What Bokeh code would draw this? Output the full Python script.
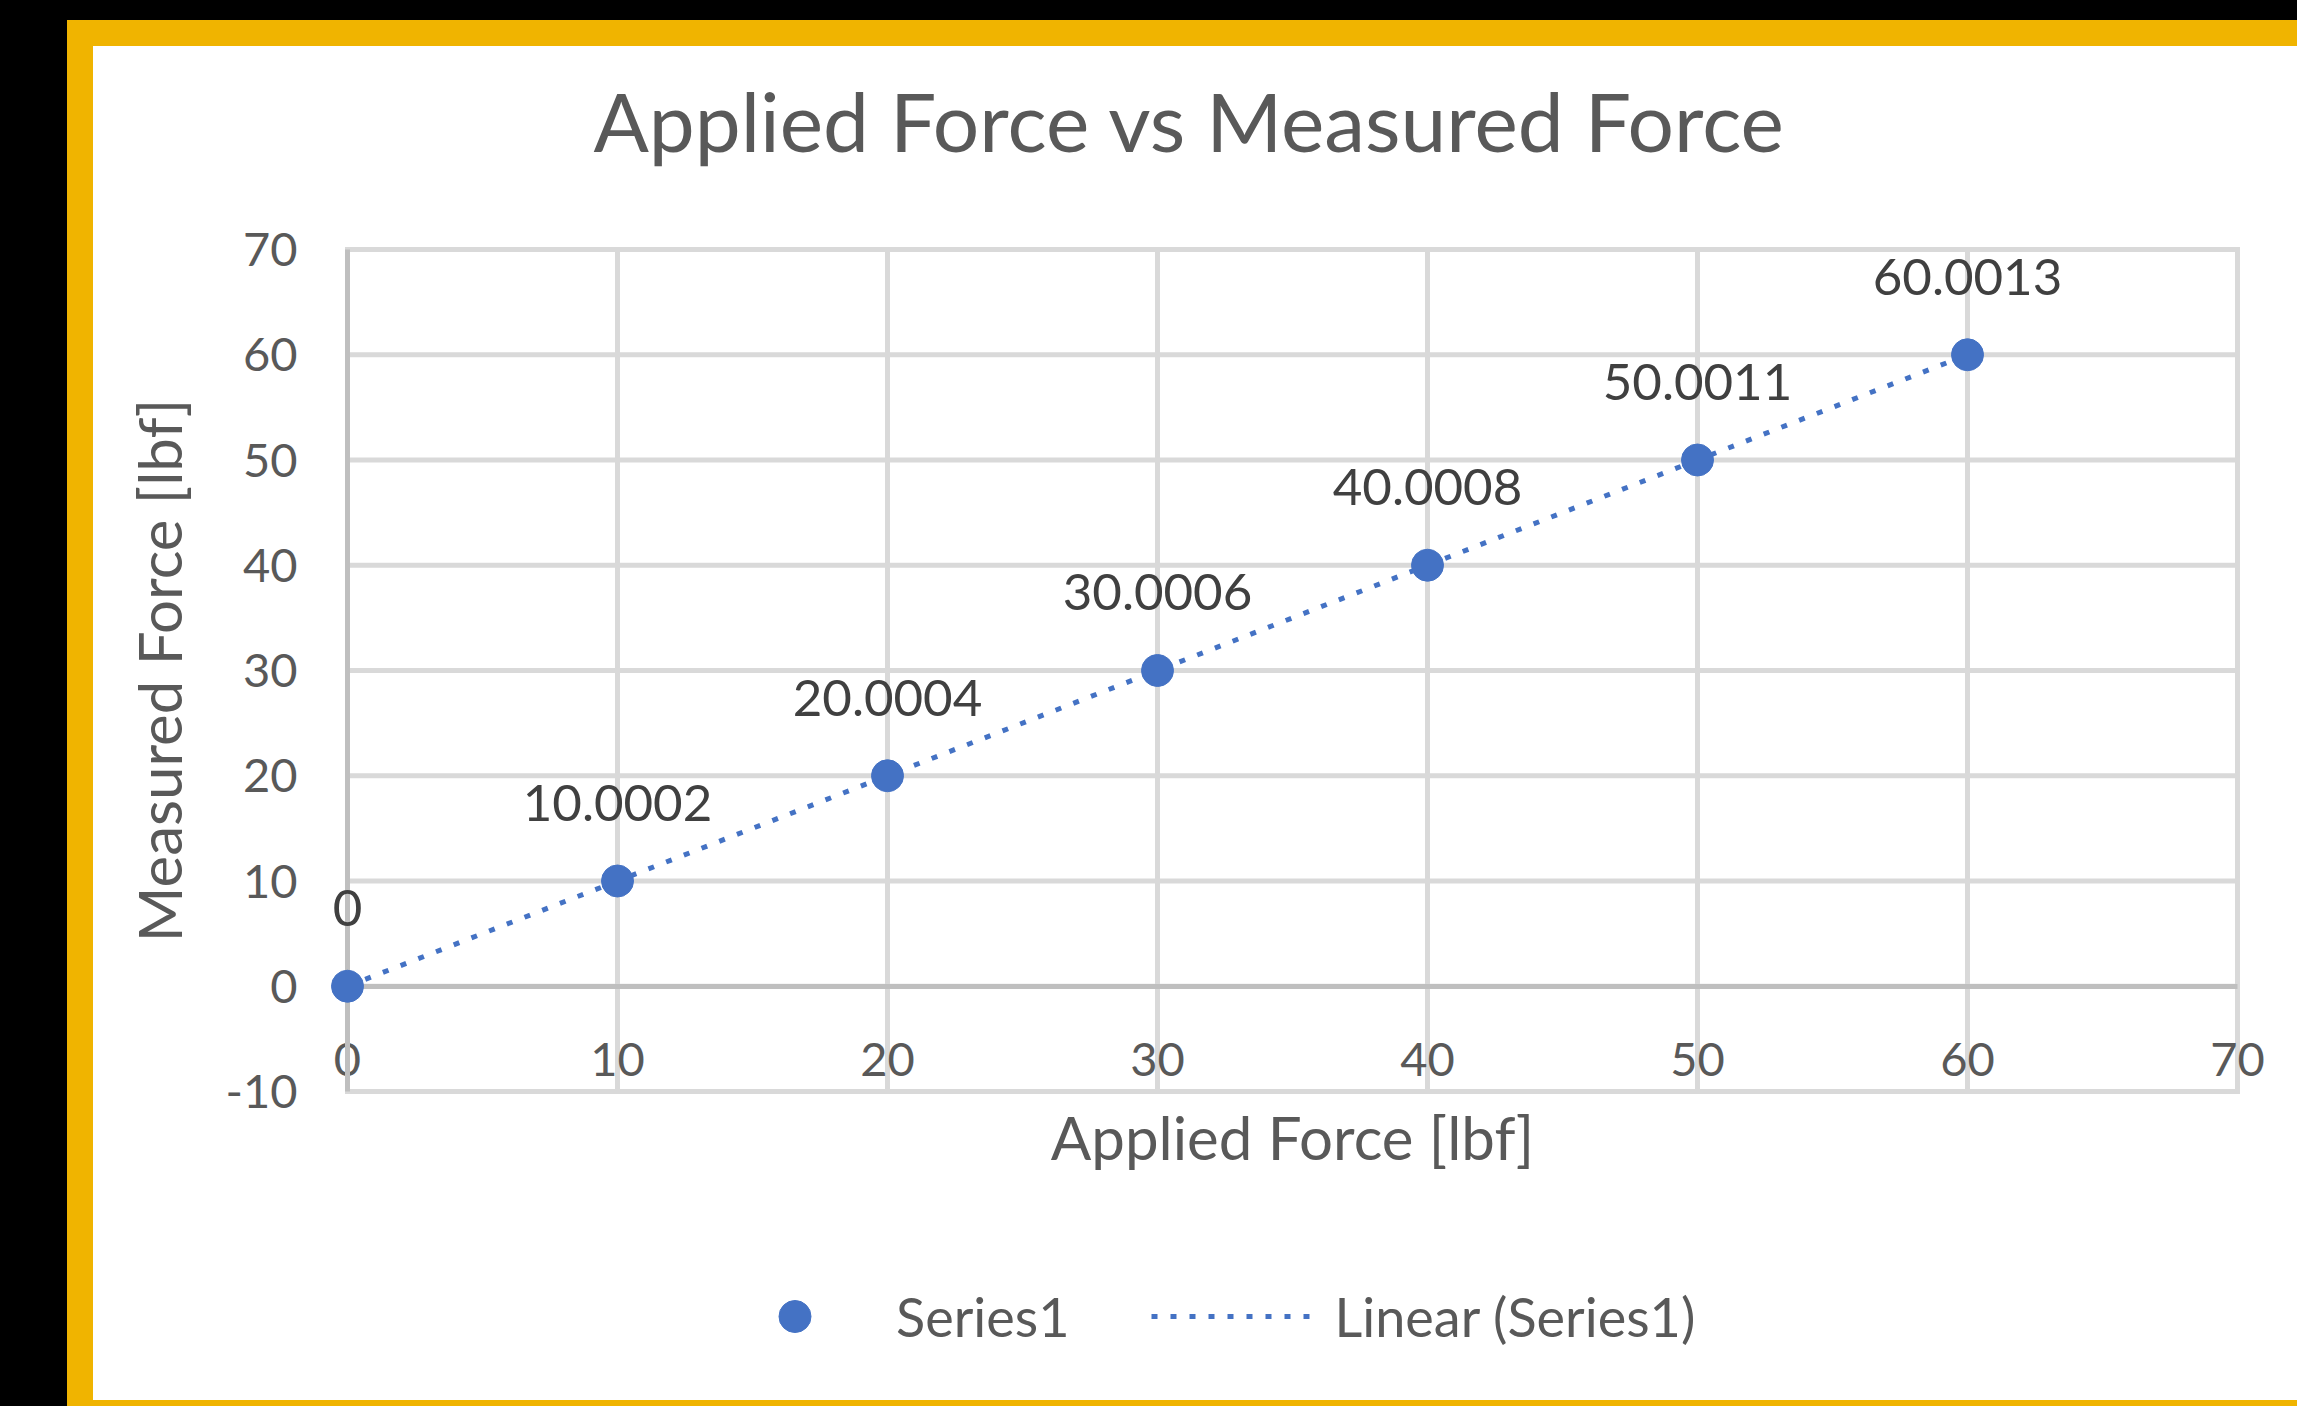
import numpy as np
from bokeh.plotting import figure
from bokeh.models import (LinearAxis, FixedTicker, Legend, LegendItem, Range1d,
                          GlobalInlineStyleSheet)
from bokeh.core.properties import value
from bokeh.embed import file_html
from bokeh.resources import INLINE

# ---- data ----
applied = [0, 10, 20, 30, 40, 50, 60]
measured = [0, 10.0002, 20.0004, 30.0006, 40.0008, 50.0011, 60.0013]
point_labels = ["0", "10.0002", "20.0004", "30.0006", "40.0008", "50.0011", "60.0013"]
x_ticks = [0, 10, 20, 30, 40, 50, 60, 70]
y_ticks = [-10, 0, 10, 20, 30, 40, 50, 60, 70]
y_tick_text = {-10: "-10"}
title_text = "Applied Force vs Measured Force"
x_title = "Applied Force [lbf]"
y_title = "Measured Force [lbf]"
series_name = "Series1"
trend_name = "Linear (Series1)"

# ---- layout (pixels) ----
FONT = "Lato"
BLUE = "#4472C4"
TXT = "#595959"
W_IN, H_IN = 2204, 1354          # white chart area
TOP = 146                        # space for the title
PX_X, PX_Y = 27.0, 10.525        # pixels per data unit
X0_PX, Y70_PX = 254, 203         # pixel of x=0 from left, of y=70 from top (chart area)

x_lo = -X0_PX / PX_X
x_hi = x_lo + W_IN / PX_X
y_hi = y_ticks[-1] + (Y70_PX - TOP) / PX_Y
y_lo = y_hi - (H_IN - TOP) / PX_Y

p = figure(width=W_IN, height=H_IN,
           x_range=Range1d(x_lo, x_hi), y_range=Range1d(y_lo, y_hi),
           x_axis_location=None, y_axis_location=None,
           min_border_left=0, min_border_right=0,
           min_border_top=TOP, min_border_bottom=0,
           output_backend="svg", toolbar_location=None,
           background_fill_color="white", border_fill_color="white")
p.outline_line_color = None
p.grid.visible = False

p.stylesheets = [GlobalInlineStyleSheet(
    css="html,body{background:#000;margin:0;padding:0;overflow:hidden;}")]
p.styles = {"margin-left": "93px", "margin-top": "46px",
            "outline": "26px solid #F0B400", "background-color": "white"}

# title
p.title.text = title_text
p.title.align = "left"
p.title.vertical_align = "top"
p.title.offset = 500
p.title.text_font = FONT
p.title.text_font_size = "82px"
p.title.text_font_style = "normal"
p.title.text_color = TXT
p.title.standoff = 44

# gridlines, drawn over the value range only
p.segment(x0=x_ticks, y0=[y_ticks[0]] * len(x_ticks), x1=x_ticks, y1=[y_ticks[-1]] * len(x_ticks),
          line_color="#D9D9D9", line_width=5, line_cap="square")
p.segment(x0=[x_ticks[0]] * len(y_ticks), y0=y_ticks, x1=[x_ticks[-1]] * len(y_ticks), y1=y_ticks,
          line_color="#D9D9D9", line_width=5, line_cap="square")

# y axis at x = 0
ya = LinearAxis(fixed_location=0, bounds=(y_ticks[0], y_ticks[-1]), ticker=FixedTicker(ticks=y_ticks))
ya.major_label_overrides = y_tick_text
ya.axis_line_color = "#BFBFBF"
ya.axis_line_width = 5
ya.major_tick_line_color = None
ya.minor_tick_line_color = None
ya.major_label_standoff = 44
ya.major_label_text_font = FONT
ya.major_label_text_font_size = "47px"
ya.major_label_text_color = TXT
ya.axis_label = y_title
ya.axis_label_text_font = FONT
ya.axis_label_text_font_size = "60px"
ya.axis_label_text_font_style = "normal"
ya.axis_label_text_color = TXT
ya.axis_label_standoff = 28
p.add_layout(ya, "left")

# x axis crossing at y = 0
xa = LinearAxis(fixed_location=0, bounds=(x_ticks[0], x_ticks[-1]), ticker=FixedTicker(ticks=x_ticks))
xa.axis_line_color = "#BFBFBF"
xa.axis_line_width = 5
xa.major_tick_line_color = None
xa.minor_tick_line_color = None
xa.major_label_standoff = 51
xa.major_label_text_font = FONT
xa.major_label_text_font_size = "47px"
xa.major_label_text_color = TXT
xa.axis_label = x_title
xa.axis_label_text_font = FONT
xa.axis_label_text_font_size = "60px"
xa.axis_label_text_font_style = "normal"
xa.axis_label_text_color = TXT
xa.axis_label_standoff = 21
p.add_layout(xa, "below")

# trendline (least squares from the data)
slope, intercept = np.polyfit(applied, measured, 1)
tx = np.array([min(applied), max(applied)], dtype=float)
ty = slope * tx + intercept
trend = p.line(tx, ty, line_color=BLUE, line_width=5, line_dash="6 13", line_cap="butt",
               level="overlay")

pts = p.scatter(applied, measured, size=32, fill_color=BLUE, line_color=BLUE, level="overlay")

p.text(applied, measured, text=point_labels, text_align="center", text_baseline="middle",
       y_offset=-78, text_font=value(FONT), text_font_size="51px", text_color="#404040",
       level="overlay")

legend = Legend(items=[LegendItem(label=series_name, renderers=[pts]),
                       LegendItem(label=trend_name, renderers=[trend])],
                orientation="horizontal", location=(620, 44))
legend.glyph_width = 163
legend.glyph_height = 80
legend.label_standoff = 20
legend.spacing = 82
legend.padding = 0
legend.margin = 0
legend.border_line_color = None
legend.background_fill_alpha = 0
legend.label_text_font = FONT
legend.label_text_font_size = "54px"
legend.label_text_color = TXT
p.add_layout(legend, "center")

open("out.html", "w").write(file_html(p, INLINE))
